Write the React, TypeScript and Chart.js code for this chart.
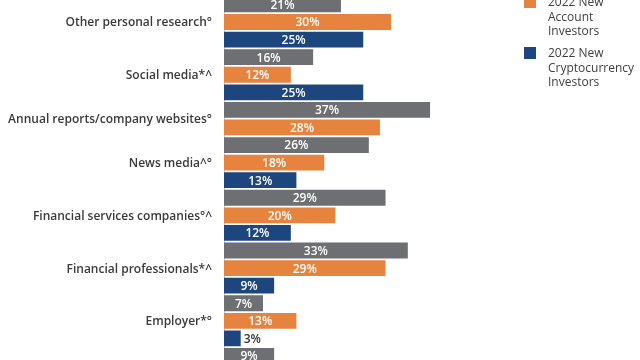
import React, { useEffect, useRef } from "react";
import { Chart, registerables } from "chart.js";

Chart.register(...registerables);

const categories = [
  "Other personal research°",
  "Social media*^",
  "Annual reports/company websites°",
  "News media^°",
  "Financial services companies°^",
  "Financial professionals*^",
  "Employer*°",
  "",
];
const existingValues: (number | null)[] = [21, 16, 37, 26, 29, 33, 7, 9];
const newAccountValues: (number | null)[] = [30, 12, 28, 18, 20, 29, 13, null];
const cryptoValues: (number | null)[] = [25, 25, null, 13, 12, 9, 3, null];
const seriesLabels = [
  "2022 Existing Investors",
  "2022 New Account Investors",
  "2022 New Cryptocurrency Investors",
];
const seriesColors = ["#6e6f73", "#e5833f", "#1e467e"];

const FONT = '"Open Sans", "Noto Sans", sans-serif';

export default function App() {
  const ref = useRef<HTMLCanvasElement>(null);

  useEffect(() => {
    const series = [existingValues, newAccountValues, cryptoValues];
    const rows: { group: number; series: number; value: number }[] = [];
    categories.forEach((_, g) => {
      series.forEach((vals, s) => {
        const v = vals[g];
        if (v !== null && v !== undefined) rows.push({ group: g, series: s, value: v });
      });
    });

    const labelPlugin = {
      id: "labels",
      afterDatasetsDraw(chart: any) {
        const ctx = chart.ctx;
        ctx.save();
        ctx.font = `600 12px ${FONT}`;
        ctx.textBaseline = "middle";
        chart.data.datasets.forEach((ds: any, d: number) => {
          const meta = chart.getDatasetMeta(d);
          meta.data.forEach((el: any, i: number) => {
            const v = ds.data[i];
            if (v === null || v === undefined) return;
            const { x, y, base } = el.getProps(["x", "y", "base"], true);
            const text = v + "%";
            const w = ctx.measureText(text).width;
            if (w + 6 <= x - base) {
              ctx.fillStyle = "#ffffff";
              ctx.textAlign = "center";
              ctx.fillText(text, (x + base) / 2, y + 1);
            } else {
              ctx.fillStyle = "#333333";
              ctx.textAlign = "left";
              ctx.fillText(text, x + 3, y + 1);
            }
          });
        });
        const yScale = chart.scales.y;
        ctx.fillStyle = "#3a3a3a";
        ctx.textAlign = "right";
        categories.forEach((name, g) => {
          const idx = rows.map((r, i) => (r.group === g ? i : -1)).filter((i) => i >= 0);
          if (!idx.length || !name) return;
          const y0 = yScale.getPixelForValue(idx[0]);
          const y1 = yScale.getPixelForValue(idx[idx.length - 1]);
          ctx.fillText(name, chart.chartArea.left - 12, (y0 + y1) / 2 + 1);
        });
        ctx.restore();
      },
    };

    const chart = new Chart(ref.current as HTMLCanvasElement, {
      type: "bar",
      data: {
        labels: rows.map((_, i) => String(i)),
        datasets: seriesLabels.map((label, s) => ({
          label,
          data: rows.map((r) => (r.series === s ? r.value : null)),
          backgroundColor: seriesColors[s],
          borderWidth: 0,
          skipNull: true,
          barPercentage: 0.9,
          categoryPercentage: 1,
        })),
      },
      options: {
        indexAxis: "y",
        animation: false,
        responsive: false,
        layout: { padding: { top: 15.6, bottom: 15.2, left: 0, right: 137.5 } },
        plugins: { legend: { display: false }, tooltip: { enabled: false } },
        scales: {
          x: { display: false, min: 0, max: 50 },
          y: {
            display: true,
            grid: { display: false, drawTicks: false },
            border: { display: true, color: "#c3ccd6", width: 1 },
            ticks: { display: false },
            afterFit: (s: any) => {
              s.width = 224;
            },
          },
        },
      },
      plugins: [labelPlugin],
    } as any);
    return () => chart.destroy();
  }, []);

  const legendItems = [
    { color: seriesColors[0], lines: ["2022 Existing", "Investors"], top: -42 },
    { color: seriesColors[1], lines: ["2022 New", "Account", "Investors"], top: -5 },
    { color: seriesColors[2], lines: ["2022 New", "Cryptocurrency", "Investors"], top: 46 },
  ];

  return (
    <div
      style={{
        position: "fixed",
        left: 0,
        top: 0,
        width: 640,
        height: 360,
        overflow: "hidden",
        background: "#ffffff",
      }}
    >
      <div style={{ position: "absolute", left: 0, top: -20, width: 640, height: 400 }}>
        <canvas ref={ref} width={640} height={400} style={{ width: 640, height: 400, display: "block" }} />
      </div>
      {legendItems.map((it, i) => (
        <div
          key={i}
          style={{
            position: "absolute",
            left: 524,
            top: it.top,
            display: "flex",
            alignItems: "flex-start",
            fontFamily: FONT,
            fontSize: 12,
            lineHeight: "14.5px",
            color: "#404040",
          }}
        >
          <div style={{ width: 12, height: 12, background: it.color, marginTop: 1, marginRight: 12, flex: "none" }} />
          <div>
            {it.lines.map((l, j) => (
              <div key={j}>{l}</div>
            ))}
          </div>
        </div>
      ))}
    </div>
  );
}
